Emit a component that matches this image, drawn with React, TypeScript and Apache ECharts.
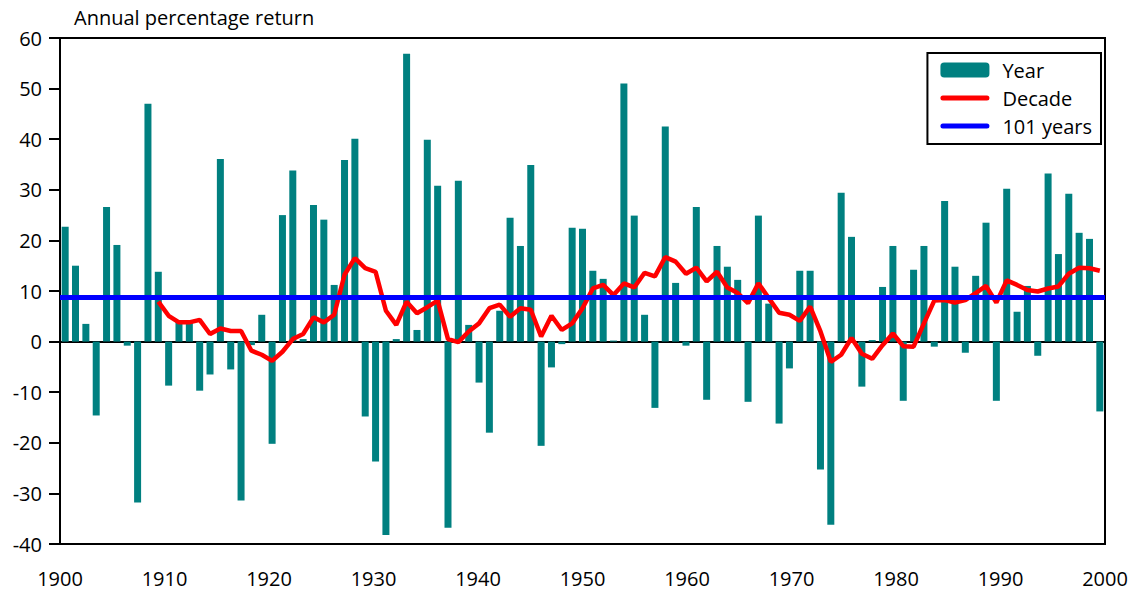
import React, { useEffect, useRef } from "react";
import * as echarts from "echarts";

const FIRST_YEAR = 1900;
const LAST_YEAR = 2000;
const DECADE_START_YEAR = 1909;

const yearReturns: number[] = [
  22.7, 15.0, 3.5, -14.6, 26.6, 19.1, -0.8, -31.8, 47.0, 13.8,
  -8.7, 4.0, 4.0, -9.7, -6.5, 36.1, -5.5, -31.4, -0.7, 5.3,
  -20.2, 25.0, 33.8, 0.5, 27.0, 24.1, 11.2, 35.9, 40.1, -14.8,
  -23.7, -38.2, 0.5, 56.9, 2.3, 39.9, 30.8, -36.8, 31.8, 3.3,
  -8.1, -18.0, 6.1, 24.5, 18.9, 34.9, -20.6, -5.1, -0.5, 22.5,
  22.3, 14.0, 12.4, 0.2, 51.0, 24.9, 5.3, -13.1, 42.5, 11.6,
  -0.8, 26.6, -11.5, 18.9, 14.8, 12.2, -11.9, 24.9, 7.5, -16.2,
  -5.3, 14.0, 14.0, -25.3, -36.2, 29.4, 20.7, -8.9, 0.3, 10.8,
  18.9, -11.7, 14.2, 18.9, -1.0, 27.8, 14.8, -2.2, 13.0, 23.5,
  -11.7, 30.2, 5.9, 11.0, -2.8, 33.2, 17.3, 29.2, 21.5, 20.3,
  -13.8,
];

// Rolling decade return, 1909..2000
const decadeReturns: number[] = [
  7.9,
  5.1, 3.8, 3.8, 4.3, 1.5, 2.6, 2.1, 2.1, -1.8, -2.6,
  -3.8, -2.0, 0.5, 1.5, 4.8, 3.8, 5.3, 13.2, 16.5, 14.5,
  13.8, 6.1, 3.3, 7.9, 5.6, 6.8, 8.1, 0.5, -0.1, 2.0,
  3.6, 6.6, 7.3, 4.9, 6.6, 6.3, 1.0, 5.1, 2.3, 3.6,
  6.6, 10.5, 11.2, 9.2, 11.5, 10.7, 13.6, 12.9, 16.7, 15.8,
  13.4, 14.6, 11.9, 13.8, 10.7, 9.6, 7.6, 11.5, 8.6, 5.7,
  5.3, 4.1, 6.9, 2.0, -4.0, -2.6, 0.7, -2.4, -3.4, -0.7,
  1.6, -0.9, -1.0, 3.6, 8.1, 8.2, 7.7, 8.2, 9.6, 11.0,
  7.7, 12.1, 11.2, 10.2, 9.9, 10.5, 10.9, 13.4, 14.6, 14.5,
  14.0,
];

const LONG_RUN_MEAN = 8.7;

const yearLabels: string[] = [];
for (let y = FIRST_YEAR; y <= LAST_YEAR; y++) yearLabels.push(String(y));

const decadeData: (number | null)[] = yearLabels.map((lbl) => {
  const y = Number(lbl);
  if (y < DECADE_START_YEAR) return null;
  return decadeReturns[y - DECADE_START_YEAR];
});

const FONT = "'Open Sans', 'Noto Sans', sans-serif";

// rounded thick line used as legend icon (with invisible extent markers top/bottom)
const LINE_ICON =
  "path://M0,0L49,0M0,15L49,15M2.5,5L46.5,5A2.5,2.5 0 0 1 46.5,10L2.5,10A2.5,2.5 0 0 1 2.5,5Z";

export default function App() {
  const ref = useRef<HTMLDivElement>(null);

  useEffect(() => {
    if (!ref.current) return;
    const chart = echarts.init(ref.current, undefined, { renderer: "svg" });
    chart.setOption({
      animation: false,
      backgroundColor: "#fff",
      textStyle: { fontFamily: FONT },
      title: {
        text: "Annual percentage return",
        left: 69,
        top: 2,
        textStyle: { fontSize: 20, fontWeight: "normal", color: "#000", fontFamily: FONT },
      },
      legend: {
        orient: "vertical",
        right: 31,
        top: 53,
        data: [
          { name: "Year" },
          { name: "Decade", icon: LINE_ICON, itemStyle: { color: "#FF0000", borderWidth: 0 } },
          { name: "101 years", icon: LINE_ICON, itemStyle: { color: "#0000FF", borderWidth: 0 } },
        ],
        itemWidth: 49,
        itemHeight: 15,
        itemGap: 8,
        padding: [7, 9, 8, 13],
        borderColor: "#000",
        borderWidth: 2,
        backgroundColor: "#fff",
        textStyle: { fontSize: 20, color: "#000", fontFamily: FONT, padding: [0, 0, 0, 8] },
      },
      grid: {
        left: 60,
        right: 27,
        top: 38,
        bottom: 47,
        show: true,
        borderColor: "#000",
        borderWidth: 2,
        backgroundColor: "transparent",
      },
      xAxis: [
        {
          type: "category",
          data: yearLabels,
          boundaryGap: true,
          position: "bottom",
          axisLine: { show: true, onZero: true, lineStyle: { color: "#000", width: 2 } },
          axisTick: { show: false },
          axisLabel: { show: false },
          splitLine: { show: false },
        },
        {
          type: "value",
          min: FIRST_YEAR,
          max: LAST_YEAR,
          interval: 10,
          position: "bottom",
          axisLine: { show: false, onZero: false },
          axisTick: { show: false },
          splitLine: { show: false },
          axisLabel: {
            fontSize: 20,
            color: "#000",
            margin: 24,
            fontFamily: FONT,
            formatter: (v: number) => String(v),
          },
        },
      ],
      yAxis: {
        type: "value",
        min: -40,
        max: 60,
        interval: 10,
        axisLine: { show: true, onZero: false, lineStyle: { color: "#000", width: 2 } },
        axisTick: { show: true, inside: false, length: 11, lineStyle: { color: "#000", width: 2 } },
        splitLine: { show: false },
        axisLabel: { fontSize: 20, color: "#000", margin: 18, fontFamily: FONT },
      },
      series: [
        {
          name: "Year",
          type: "bar",
          xAxisIndex: 0,
          data: yearReturns,
          barWidth: 7,
          itemStyle: { color: "#008080" },
          z: 2,
        },
        {
          name: "101 years",
          type: "line",
          xAxisIndex: 0,
          data: [],
          symbol: "none",
          lineStyle: { color: "#0000FF", width: 5 },
          itemStyle: { color: "#0000FF" },
          z: 3,
          markLine: {
            silent: true,
            symbol: "none",
            label: { show: false },
            lineStyle: { color: "#0000FF", width: 5, type: "solid" },
            data: [{ yAxis: LONG_RUN_MEAN }],
          },
        },
        {
          name: "Decade",
          type: "line",
          xAxisIndex: 0,
          data: decadeData,
          symbol: "none",
          connectNulls: false,
          lineStyle: { color: "#FF0000", width: 4.5 },
          itemStyle: { color: "#FF0000" },
          z: 4,
        },
      ],
    });
    return () => chart.dispose();
  }, []);

  return (
    <div
      ref={ref}
      style={{ position: "fixed", left: 0, top: 0, width: 1132, height: 591 }}
    />
  );
}
